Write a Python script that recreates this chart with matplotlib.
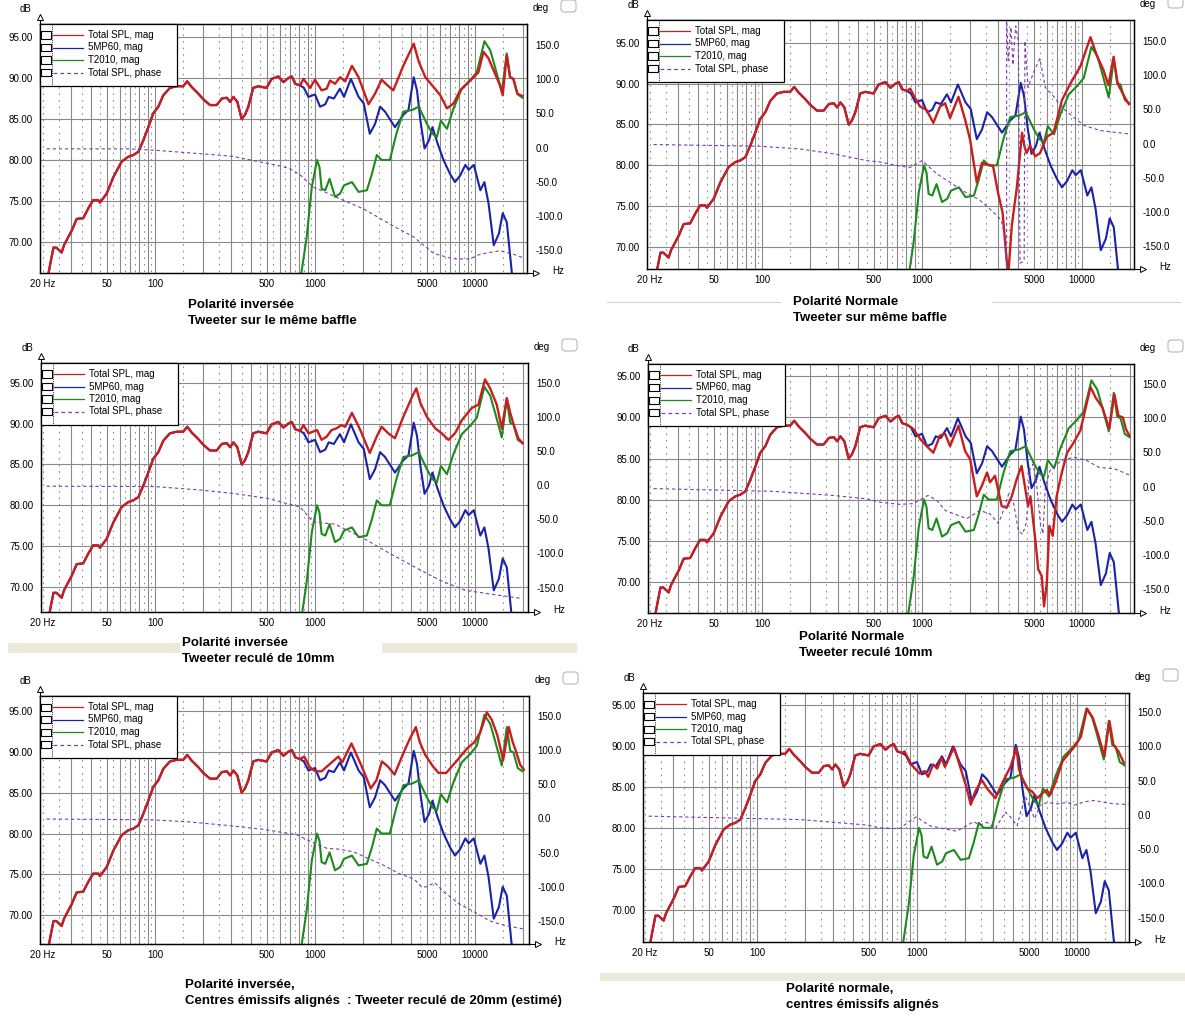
import matplotlib
matplotlib.use('Agg')
import matplotlib.pyplot as plt
from matplotlib.patches import Rectangle, FancyBboxPatch
from matplotlib.lines import Line2D
from matplotlib.ticker import NullLocator

W, H = 1185, 1019
plt.rcParams['font.family'] = ['Liberation Sans', 'DejaVu Sans']

# ---- curves shared by every panel ----
# below ~800 Hz the total is the woofer alone
LOW_FREQ = [21.2, 22.2, 23.2, 24.2, 26.1, 27.0, 30.2, 32.4, 35.6, 38.3, 41.1, 44.2, 45.3, 49.9, 54.9,
            61.9, 68.2, 73.2, 78.7, 84.5, 90.8, 97.6, 104.9, 112.7, 124, 136.6, 150, 159, 169.6, 186.5,
            200.5, 220.7, 243, 261.4, 280.9, 294.8, 309, 327, 348, 365, 383, 411, 442, 498, 536, 590,
            635, 682, 716, 752, 808]
LOW_DB = [65.3, 67.4, 69.3, 69.3, 68.7, 69.6, 71.4, 72.8, 72.9, 74.1, 75.1, 75.1, 74.8, 75.9, 77.9,
          79.8, 80.4, 80.6, 81.0, 82.4, 84.0, 85.7, 86.5, 87.9, 88.8, 89.0, 89.0, 89.6, 88.9, 88.1,
          87.4, 86.7, 86.7, 87.5, 87.6, 87.1, 87.7, 87.1, 85.0, 85.5, 86.5, 88.8, 89.0, 88.8, 89.9, 90.2,
          89.5, 90.0, 90.2, 89.3, 89.1]

WOOFER_FREQ = [852, 910, 1000, 1076, 1159, 1218, 1312, 1432, 1518, 1676, 1872, 2017, 2200, 2373, 2553,
               2740, 3162, 3563, 3837, 4141, 4340, 4560, 4837, 5160, 5420, 5840, 6355, 6980, 7500, 8080,
               8700, 9130, 9830, 10800, 11450, 12150, 13100, 14100, 14900, 15800, 17000, 17600]
WOOFER_DB = [88.8, 87.7, 88.0, 86.5, 86.8, 87.7, 87.5, 88.7, 87.7, 89.9, 87.7, 86.9, 83.2, 84.4, 86.5,
             85.9, 84.0, 85.5, 86.1, 90.1, 88.5, 84.8, 81.4, 82.4, 84.0, 82.0, 80.0, 78.3, 77.3, 78.1,
             79.4, 78.8, 79.4, 76.3, 77.3, 74.7, 69.6, 71.0, 73.5, 72.4, 66.2, 64.5]

TWEETER_FREQ = [790, 822, 887, 955, 1030, 1067, 1100, 1159, 1233, 1334, 1437, 1518, 1702, 1872, 2110,
                2268, 2433, 2610, 2935, 3227, 3560, 4045, 4450, 5010, 5420, 5780, 6120, 6680, 7345, 8270,
                9300, 10260, 11450, 12450, 13360, 14700, 15800, 16600, 17400, 18500, 19800]
TWEETER_DB = [64.0, 66.2, 70.6, 76.7, 80.0, 79.1, 76.5, 76.3, 77.7, 75.5, 75.9, 76.9, 77.3, 76.1, 76.3,
              78.3, 80.6, 80.0, 80.0, 83.2, 85.9, 86.1, 86.5, 84.4, 83.2, 82.8, 84.8, 83.8, 86.3, 88.7,
              89.7, 90.7, 94.5, 93.4, 91.3, 88.3, 93.0, 90.1, 89.9, 88.0, 87.6]

# ---- total SPL above 800 Hz, one per panel ----
P1_FREQ = [847, 931, 1000, 1100, 1183, 1242, 1334, 1437, 1545, 1702, 1872, 2160, 2373, 2610, 2805,
           3085, 3563, 4141, 4451, 4894, 5513, 6069, 6679, 7345, 8077, 9549, 10500, 11300, 12150,
           13360, 14350, 14900, 15780, 16550, 17350, 18370, 19830]
P1_DB = [89.9, 88.8, 89.8, 88.5, 88.7, 89.7, 89.3, 90.1, 89.6, 91.5, 90.1, 86.8, 88.1, 89.8, 89.2,
         88.5, 91.5, 94.2, 92.0, 90.1, 88.9, 87.9, 86.3, 86.9, 88.5, 89.9, 90.7, 93.2, 92.4,
         90.5, 89.1, 87.9, 92.8, 90.1, 89.9, 88.1, 87.8]

P2_FREQ = [843, 884, 972, 1067, 1177, 1296, 1395, 1497, 1690, 1860, 2000, 2200, 2370, 2550, 2780,
           2990, 3190, 3350, 3460, 3640, 3920, 4220, 4360, 4500, 4730, 5100, 5470, 6030, 6640, 7500,
           8450, 9760, 11300, 12350, 13600, 14630, 15760, 16700, 18670, 19600]
P2_DB = [89.4, 88.6, 87.2, 86.8, 85.2, 87.2, 87.6, 85.8, 88.4, 85.6, 83.1, 77.9, 80.3, 80.1, 79.9,
         76.6, 74.2, 69.3, 66.5, 72.6, 77.4, 84.0, 82.4, 81.5, 82.4, 81.1, 81.5, 83.5, 84.0, 88.0,
         90.0, 92.1, 95.7, 93.5, 91.7, 89.8, 93.3, 90.0, 88.2, 87.5]

P3_FREQ = [847, 910, 1030, 1100, 1183, 1270, 1360, 1460, 1545, 1702, 1920, 2200, 2430, 2610, 2870,
           3160, 3560, 4050, 4300, 4560, 5010, 5650, 6200, 6820, 7500, 8270, 9550, 10500, 11550,
           12430, 13680, 14700, 15800, 16550, 17350, 18650, 19830]
P3_DB = [89.8, 88.8, 89.2, 88.0, 88.4, 89.2, 89.4, 89.8, 89.6, 91.3, 89.2, 86.4, 88.4, 89.6, 88.8,
         88.2, 90.8, 93.3, 94.3, 92.5, 90.8, 89.4, 88.8, 88.0, 88.8, 90.4, 91.9, 92.3, 95.4,
         94.3, 92.3, 89.4, 93.1, 91.4, 90.0, 88.2, 87.6]

P4_FREQ = [882, 972, 1070, 1177, 1296, 1395, 1497, 1690, 1860, 2000, 2200, 2370, 2550, 2660, 2860,
           3150, 3380, 3640, 3910, 4190, 4390, 4600, 4760, 5100, 5330, 5600, 5790, 6030, 6250, 6560,
           6940, 7480, 8070, 8850, 9760, 10500, 11300, 12170, 13430, 14800, 15950, 16900, 18000,
           18800, 19750]
P4_DB = [88.6, 87.4, 86.5, 85.7, 87.8, 88.0, 86.5, 89.0, 85.9, 84.9, 80.4, 81.7, 83.3, 82.1, 82.9,
         79.2, 79.0, 80.4, 82.5, 84.1, 81.7, 79.2, 80.4, 75.2, 71.5, 70.7, 67.0, 69.9, 76.8, 75.6,
         80.4, 83.3, 85.7, 86.9, 88.4, 91.0, 93.7, 92.4, 91.2, 88.6, 92.8, 90.2, 90.0,
         88.6, 87.8]

P5_FREQ = [856, 934, 1010, 1100, 1190, 1290, 1400, 1480, 1690, 1940, 2230, 2420, 2620, 2850, 3140,
           3600, 3920, 4270, 4510, 4890, 5460, 5920, 6610, 7170, 7780, 8930, 9970, 10800, 11860,
           12730, 13800, 15000, 16270, 17180, 18140, 19150, 20200]
P5_DB = [89.4, 88.0, 87.6, 87.6, 88.2, 88.8, 89.4, 88.7, 91.0, 88.4, 85.5, 86.5, 88.8, 88.2, 87.2,
         90.0, 91.6, 93.0, 91.2, 89.6, 88.2, 87.4, 87.4, 88.2, 89.0, 90.4, 91.2, 92.4, 94.8,
         93.9, 92.0, 89.0, 93.0, 91.2, 89.9, 88.4, 87.8]

P6_FREQ = [836, 921, 1039, 1118, 1174, 1261, 1337, 1424, 1494, 1703, 1904, 2046, 2168, 2309, 2544,
           2735, 3088, 3482, 3834, 4187, 4326, 4535, 4882, 5250, 5646, 6073, 6467, 6789, 7367, 8115,
           8936, 9841, 10583, 11550, 12540, 13487, 14835, 15940, 16890, 18160, 19640]
P6_DB = [89.3, 87.7, 86.6, 86.9, 86.2, 87.7, 87.2, 88.5, 87.4, 89.8, 86.8, 84.8, 82.8, 84.4, 85.8,
         84.8, 83.6, 85.8, 87.4, 89.7, 87.2, 86.0, 84.8, 84.4, 83.6, 84.2, 84.6, 84.0, 85.6, 88.1,
         89.1, 90.1, 91.1, 94.5, 93.4, 91.5, 88.7, 93.0, 90.1, 89.3, 87.9]

# ---- total SPL phase (deg), one per panel ----
P1_PH_F = [21, 40, 70, 100, 191, 307, 498, 604, 697, 808, 975, 1100, 1334, 2017, 2935, 4141, 5513,
           7345, 9300, 10800, 14350, 17350, 19830]
P1_PH = [-2, -2, -2, -4, -9, -13, -23, -27, -31, -40, -58, -63, -72, -90, -112, -131, -155,
         -163, -163, -156, -151, -156, -161]

P2_PH_F = [21, 97, 173, 278, 451, 546, 727, 843, 1000, 1233, 1800, 2300, 2780, 3130, 3290, 3380,
           3380, 3460, 3600, 3700, 3850, 4000, 4100, 4350, 4400, 4600, 5000, 5450, 5900, 6700, 7500,
           8900, 10400, 13000, 19600]
P2_PH = [-1.5, -4, -8, -15, -25, -27, -33, -35, -25, -44, -69, -83, -100, -112, -135, -184,
         184, 121, 170, 115, 172, 150, -175, -172, 150, 82, 105, 124, 82, 68, 53,
         38, 26, 19, 14]

P3_PH_F = [21, 100, 191, 307, 498, 604, 808, 975, 1334, 2017, 2935, 4141, 6000, 8700, 13000, 19830]
P3_PH = [-1.5, -2, -7, -12, -19, -24, -32, -54, -57, -78, -100, -119, -139, -154, -160, -166]

P4_PH_F = [21, 117, 278, 451, 546, 727, 880, 1090, 1233, 1400, 1900, 2300, 2660, 3000, 3150, 3480,
           3740, 4000, 4250, 4500, 4700, 4950, 5200, 5500, 5700, 5900, 6300, 7400, 8850, 10700,
           12800, 15950, 19750]
P4_PH = [-3, -7, -13, -18, -23, -26, -25, -13, -20, -35, -47, -35, -40, -54, -42, -11,
         -25, -64, -70, -52, 23, 33, 4, -55, -69, -1, 23, 38, 43, 38,
         28, 26, 17]

P5_PH_F = [21, 92, 159, 274, 472, 770, 960, 1190, 1400, 1740, 2170, 2700, 3360, 4170, 4650, 5000,
           5600, 6400, 7940, 9900, 12300, 15400, 20200]
P5_PH = [-1, -2, -5, -10, -16, -24, -35, -44, -45, -49, -59, -69, -81, -89, -101, -100,
         -94, -108, -125, -137, -150, -157, -162]

P6_PH_F = [21, 186, 489, 582, 706, 780, 857, 990, 1065, 1200, 1460, 1770, 2046, 2255, 2480, 2735,
           3088, 3565, 3834, 4228, 4440, 4770, 5130, 5435, 5878, 6540, 7560, 8733, 9615, 11140,
           12830, 14835, 17160, 21000]
P6_PH = [-2, -7, -15, -19, -20, -20, -13, -3, -8, -16, -20, -24, -16, -10, -15, -11,
         -20, 4, -3, -16, 4, 26, 9, -6, 14, 18, 16, 18, 14, 19,
         21, 18, 16, 15]

XTICKS = [20, 50, 100, 500, 1000, 5000, 10000]
XTICK_LABELS = ['20 Hz', '50', '100', '500', '1000', '5000', '10000']
DB_TICKS = [70, 75, 80, 85, 90, 95]
DEG_TICKS = [-150, -100, -50, 0, 50, 100, 150]
LEGEND_LABELS = ['Total SPL, mag', '5MP60, mag', 'T2010, mag', 'Total SPL, phase']

RED = '#c81e1e'
BLUE = '#1a22a8'
GREEN = '#1e8a1e'
PURPLE = '#7a3fa8'
GRID = '#8a8a8a'

# screen boxes (left, top, right, bottom in px), x pixel of 100 Hz, axis ranges, captions
PANELS = [
    dict(box=(40, 24, 527, 273), x100=155, db=(66.2, 96.6), deg=(-183.6, 180.7),
         total=(P1_FREQ, P1_DB), phase=(P1_PH_F, P1_PH),
         caption=['Polarité inversée', 'Tweeter sur le même baffle'], cap=(188, 305)),
    dict(box=(647, 20, 1134, 269), x100=762, db=(67.3, 97.8), deg=(-183.6, 180.7),
         total=(P2_FREQ, P2_DB), phase=(P2_PH_F, P2_PH),
         caption=['Polarité Normale', 'Tweeter sur même baffle'], cap=(793, 302)),
    dict(box=(41, 363, 528, 612), x100=155, db=(66.95, 97.4), deg=(-185.7, 179.0),
         total=(P3_FREQ, P3_DB), phase=(P3_PH_F, P3_PH),
         caption=['Polarité inversée', 'Tweeter reculé de 10mm'], cap=(182, 643)),
    dict(box=(648, 364, 1134, 613), x100=762, db=(66.2, 96.5), deg=(-185.0, 179.3),
         total=(P4_FREQ, P4_DB), phase=(P4_PH_F, P4_PH),
         caption=['Polarité Normale', 'Tweeter reculé 10mm'], cap=(799, 637)),
    dict(box=(40, 696, 529, 944), x100=155, db=(66.5, 96.8), deg=(-184.0, 179.2),
         total=(P5_FREQ, P5_DB), phase=(P5_PH_F, P5_PH),
         caption=['Polarité inversée,',
                  'Centres émissifs alignés  : Tweeter reculé de 20mm (estimé)'], cap=(185, 985)),
    dict(box=(643, 693, 1129, 942), x100=757, db=(66.1, 96.4), deg=(-185.6, 177.7),
         total=(P6_FREQ, P6_DB), phase=(P6_PH_F, P6_PH),
         caption=['Polarité normale,', 'centres émissifs alignés'], cap=(786, 989)),
]

MAJOR_F = [m * 10 ** k for k in (1, 2, 3) for m in range(2, 10)][1:] + [1000, 10000, 20000] + [100]
MINOR_F = [20] + [(m + 0.5) * 10 ** k for k in (1, 2, 3) for m in range(1, 10)][1:] + [15000]


def fx(x):
    return x / W


def fy(y):
    return 1 - y / H


def draw_panel(fig, p):
    l, t, r, b = p['box']
    ax = fig.add_axes([fx(l), fy(b), (r - l) / W, (b - t) / H])
    ax.set_xscale('log')
    ax.set_xlim(10 ** (2 - (p['x100'] - l) / 160), 10 ** (2 + (r - p['x100']) / 160))
    ax.set_ylim(*p['db'])
    ax.xaxis.set_minor_locator(NullLocator())

    # LspCAD style grid
    for f in MAJOR_F:
        ax.axvline(f, color=GRID, lw=0.8, zorder=1)
    for f in MINOR_F:
        ax.plot([f, f], [60, 100], color=GRID, lw=0.8, dashes=(1.4, 4.5), zorder=1)
    for d in DB_TICKS:
        ax.axhline(d, color=GRID, lw=0.8, zorder=1)

    ax.plot(LOW_FREQ + WOOFER_FREQ, LOW_DB + WOOFER_DB, color=BLUE, lw=1.5, zorder=3)
    ax.plot(TWEETER_FREQ, TWEETER_DB, color=GREEN, lw=1.5, zorder=3)
    tf, tdb = p['total']
    ax.plot(LOW_FREQ + tf, LOW_DB + tdb, color=RED, lw=1.7, zorder=4)

    ax.set_xticks(XTICKS)
    ax.set_xticklabels(XTICK_LABELS)
    ax.set_yticks(DB_TICKS)
    ax.set_yticklabels(['%.2f' % d for d in DB_TICKS])
    ax.tick_params(length=0, labelsize=7, pad=4)
    ax.tick_params(axis='y', pad=5)
    for s in ax.spines.values():
        s.set_color('black')
        s.set_linewidth(0.9)

    ax2 = ax.twinx()
    ax2.set_ylim(*p['deg'])
    ph_f, ph = p['phase']
    ax2.plot(ph_f, ph, color=PURPLE, lw=0.8, dashes=(3, 2.5))
    ax2.set_yticks(DEG_TICKS)
    ax2.set_yticklabels(['%.1f' % d for d in DEG_TICKS])
    ax2.tick_params(length=0, labelsize=7, pad=6)
    for s in ax2.spines.values():
        s.set_linewidth(0.9)

    # axis captions and arrows
    fig.text(fx(l - 14), fy(t - 15), 'dB', fontsize=7, ha='center', va='center')
    fig.text(fx(r + 14), fy(t - 16), 'deg', fontsize=7, ha='center', va='center')
    fig.text(fx(r + 31), fy(b - 2), 'Hz', fontsize=7, ha='center', va='center')
    fig.add_artist(Line2D([fx(l), fx(l)], [fy(t), fy(t - 8)], color='black', lw=0.8))
    fig.add_artist(Line2D([fx(l)], [fy(t - 7)], marker='^', ms=4, mfc='white', mec='black', mew=0.7))
    fig.add_artist(Line2D([fx(r), fx(r + 10)], [fy(b), fy(b)], color='black', lw=0.8))
    fig.add_artist(Line2D([fx(r + 9)], [fy(b)], marker='>', ms=4, mfc='white', mec='black', mew=0.7))
    fig.add_artist(FancyBboxPatch((fx(r + 34), fy(t - 12)), 15 / W, 12 / H,
                                  boxstyle='round,pad=0,rounding_size=0.003',
                                  transform=fig.transFigure, facecolor='white',
                                  edgecolor='#b8b8b8', lw=0.8))

    # legend box
    fig.add_artist(Rectangle((fx(l), fy(t + 62)), 137 / W, 62 / H, transform=fig.transFigure,
                             facecolor='white', edgecolor='black', lw=0.9, zorder=5))
    fig.add_artist(Line2D([fx(l + 12), fx(l + 12)], [fy(t + 1), fy(t + 61)], color='black',
                          lw=0.6, dashes=(1, 1.2), zorder=6))
    styles = [(RED, None), (BLUE, None), (GREEN, None), (PURPLE, (3, 2.5))]
    for i, (lab, (col, dash)) in enumerate(zip(LEGEND_LABELS, styles)):
        yy = t + 11 + 12.5 * i
        fig.add_artist(Rectangle((fx(l + 1), fy(yy + 3.5)), 10 / W, 7 / H, transform=fig.transFigure,
                                 facecolor='white', edgecolor='black', lw=0.8, zorder=6))
        ln = Line2D([fx(l + 13), fx(l + 43)], [fy(yy), fy(yy)], color=col, lw=0.9, zorder=6)
        if dash:
            ln.set_dashes(dash)
        fig.add_artist(ln)
        fig.text(fx(l + 48), fy(yy), lab, fontsize=7, va='center', ha='left', zorder=7)

    cx, cy = p['cap']
    for i, line in enumerate(p['caption']):
        fig.text(fx(cx), fy(cy + 16 * i), line, fontsize=9.5, fontweight='bold',
                 ha='left', va='center')


fig = plt.figure(figsize=(W / 100, H / 100), dpi=100)
fig.patch.set_facecolor('white')

# window decorations around the screenshots
for (x0, y0, x1, y1) in [(8, 643, 180, 653), (382, 643, 577, 653), (600, 973, 1185, 981)]:
    fig.add_artist(Rectangle((fx(x0), fy(y1)), (x1 - x0) / W, (y1 - y0) / H, transform=fig.transFigure,
                             facecolor='#ece9d8', edgecolor='none'))
for (x0, x1) in [(607, 780), (992, 1180)]:
    fig.add_artist(Line2D([fx(x0), fx(x1)], [fy(302), fy(302)], color='#d4d4d4', lw=0.8))

for p in PANELS:
    draw_panel(fig, p)

fig.savefig('out.png', dpi=100)
